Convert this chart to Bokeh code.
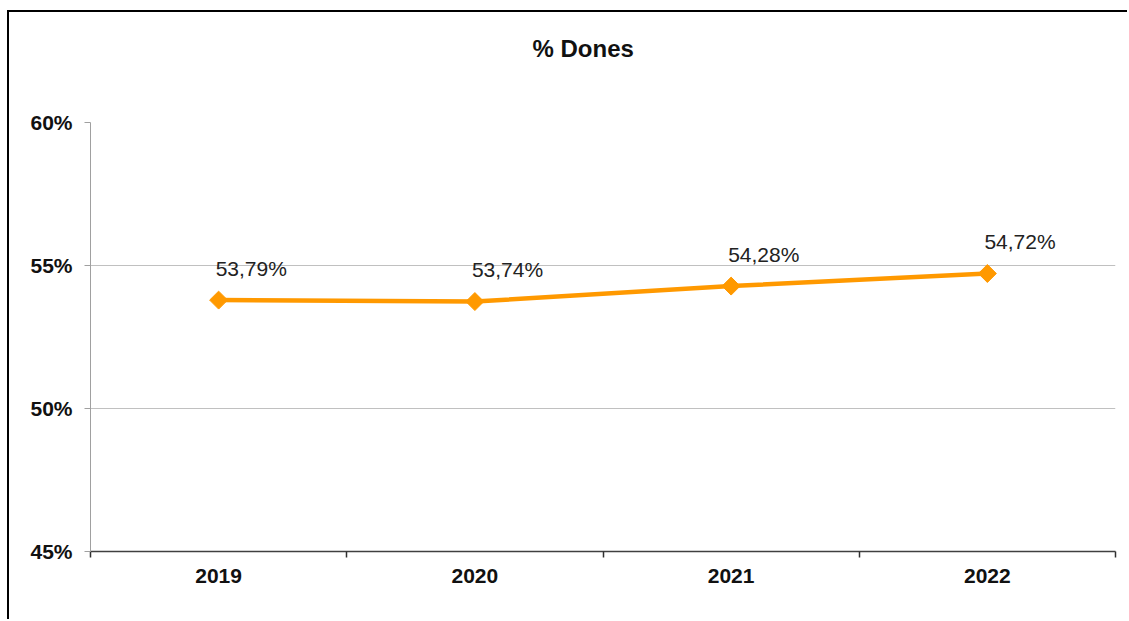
import math
from bokeh.plotting import figure
from bokeh.models import FixedTicker, PrintfTickFormatter, ColumnDataSource, Range1d, Title
from bokeh.core.properties import value
from bokeh.embed import file_html
from bokeh.resources import INLINE

years = ["2019", "2020", "2021", "2022"]
pct = [53.79, 53.74, 54.28, 54.72]
pct_labels = ["53,79%", "53,74%", "54,28%", "54,72%"]
y_ticks = [45, 50, 55, 60]
y_grid = [50, 55]
title_text = "% Dones"

FONT = "Liberation Sans"
ORANGE = "#FF9900"

xs = [i + 0.5 for i in range(len(years))]
src = ColumnDataSource(dict(x=xs, y=pct, lab=pct_labels))

W, H = 1120, 609
p = figure(width=W, height=H, output_backend="svg", toolbar_location=None,
           title_location=None,
           x_range=Range1d(0, len(years)), y_range=Range1d(45, 60),
           min_border_left=81, min_border_right=14, min_border_top=110, min_border_bottom=70)
p.styles = {"border-left": "2px solid #000", "border-top": "2px solid #000",
            "margin-left": "7px", "margin-top": "10px"}
p.outline_line_color = None
p.background_fill_color = "white"
p.border_fill_color = "white"

# spacer between frame and title (nearest to frame), then the visible title
p.add_layout(Title(text=" ", text_font_size="1px", standoff=58), "above")
p.add_layout(Title(text=title_text, align="left", offset=442, standoff=0,
                   text_font=FONT, text_font_style="bold", text_font_size="24px",
                   text_color="#111111"), "above")

# x axis
p.xaxis.ticker = FixedTicker(ticks=xs, minor_ticks=list(range(len(years) + 1)))
p.xaxis.major_label_overrides = {x: y for x, y in zip(xs, years)}
p.xaxis.major_tick_line_color = None
p.xaxis.minor_tick_line_color = "#303030"
p.xaxis.minor_tick_out = 6
p.xaxis.minor_tick_in = 0
p.xaxis.minor_tick_line_width = 1.5
p.xaxis.axis_line_color = "#404040"
p.xaxis.axis_line_width = 1.5
p.xaxis.major_label_text_font = FONT
p.xaxis.major_label_text_font_style = "bold"
p.xaxis.major_label_text_font_size = "21px"
p.xaxis.major_label_text_color = "#111111"
p.xaxis.major_label_standoff = 11

# y axis
p.yaxis.ticker = FixedTicker(ticks=y_ticks)
p.yaxis.formatter = PrintfTickFormatter(format="%d%%")
p.yaxis.axis_line_color = "#a0a0a0"
p.yaxis.major_tick_line_color = "#a0a0a0"
p.yaxis.major_tick_out = 6
p.yaxis.major_tick_in = 0
p.yaxis.minor_tick_line_color = None
p.yaxis.major_label_text_font = FONT
p.yaxis.major_label_text_font_style = "bold"
p.yaxis.major_label_text_font_size = "21px"
p.yaxis.major_label_text_color = "#111111"
p.yaxis.major_label_standoff = 12

p.xgrid.grid_line_color = None
p.ygrid.ticker = FixedTicker(ticks=y_grid)
p.ygrid.grid_line_color = "#c0c0c0"
p.ygrid.grid_line_width = 1

p.line("x", "y", source=src, line_color=ORANGE, line_width=4.5)
p.scatter("x", "y", source=src, marker="square", angle=math.pi / 4, size=12.7,
          fill_color=ORANGE, line_color=ORANGE)
p.text("x", "y", text="lab", source=src, x_offset=-3, y_offset=-32,
       text_align="left", text_baseline="alphabetic",
       text_font=value(FONT), text_font_size="21px", text_color="#222222")

open("out.html", "w").write(file_html(p, INLINE))
